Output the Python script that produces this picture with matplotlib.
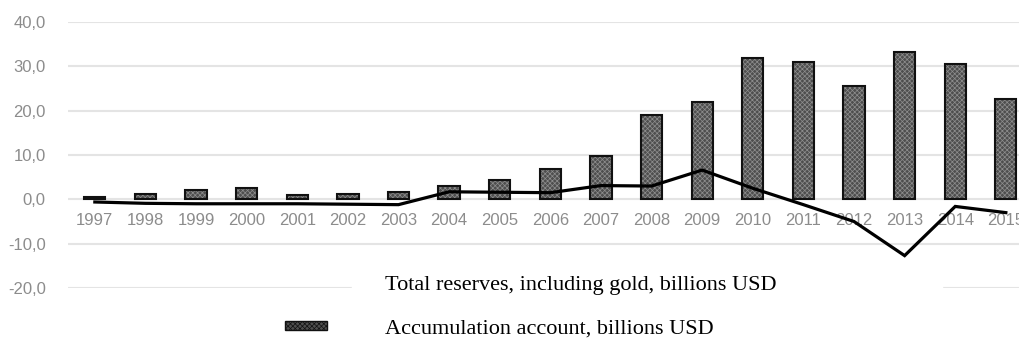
import matplotlib
matplotlib.use('Agg')
import matplotlib.pyplot as plt
from matplotlib.patches import Patch, Rectangle
from matplotlib.lines import Line2D
import numpy as np

years = [str(y) for y in range(1997, 2016)]
# Accumulation account (bars), billions USD
accumulation = [0.6, 1.2, 2.1, 2.5, 1.0, 1.1, 1.6, 3.1, 4.4, 6.9, 9.8,
                19.0, 22.0, 31.9, 30.9, 25.5, 33.3, 30.5, 22.7]
# Total reserves, including gold (line), billions USD
reserves = [-0.6, -0.9, -1.0, -1.0, -1.0, -1.1, -1.2, 1.7, 1.6, 1.5, 3.1,
            3.0, 6.6, 2.5, -1.2, -5.0, -12.7, -1.6, -3.0]
y_ticks = [-20, -10, 0, 10, 20, 30, 40]

fig = plt.figure(figsize=(10.19, 3.43), dpi=100)
ax = fig.add_axes([68 / 1019, 1 - 288 / 343, 1 - 68 / 1019, 266 / 343])

x = np.arange(len(years))
plt.rcParams['hatch.linewidth'] = 0.5

# bars: dotted grey fill, then a black outline on top
ax.bar(x, accumulation, width=0.42, color='#4e4e4e', hatch='xxxxxxx',
       edgecolor='#8e8e8e', linewidth=0, zorder=2)
ax.bar(x, accumulation, width=0.42, fill=False, edgecolor='#111111',
       linewidth=1.5, zorder=2.1)
ax.plot(x, reserves, color='black', linewidth=2.3, zorder=3,
        solid_joinstyle='miter')

ax.set_xlim(-0.53, 18.26)
ax.set_ylim(-20, 40)
ax.set_yticks(y_ticks)
ax.set_yticklabels([('%.1f' % v).replace('.', ',') for v in y_ticks])
ax.set_xticks(x)
ax.set_xticklabels(years)

ax.set_axisbelow(True)
ax.grid(axis='y', color='#e4e4e4', linewidth=1.5)
for s in ax.spines.values():
    s.set_visible(False)
ax.spines['bottom'].set_position(('data', 0))
ax.tick_params(axis='both', length=0, labelsize=12, labelcolor='#8c8c8c',
               labelfontfamily='Liberation Sans')
ax.tick_params(axis='x', pad=10)
ax.tick_params(axis='y', pad=16)

# gap in the bottom gridline behind the legend
ax.add_patch(Rectangle((5.08, -21), 11.65, 2, color='white', zorder=1))

handles = [Line2D([], [], color='none'),
           Patch(facecolor='#4e4e4e', hatch='xxxxxxx', edgecolor='#111111')]
labels = ['Total reserves, including gold, billions USD',
          'Accumulation account, billions USD']
fs = 16
em = fs * 100 / 72
fig.legend(handles, labels, loc='upper left',
           bbox_to_anchor=(285 / 1019, 1 - 276 / 343),
           frameon=False, borderpad=0, borderaxespad=0,
           handlelength=42 / em, handleheight=6 / em, handletextpad=58 / em,
           labelspacing=1.1,
           prop={'family': 'Liberation Serif', 'size': fs})

fig.savefig('out.png', dpi=100)
